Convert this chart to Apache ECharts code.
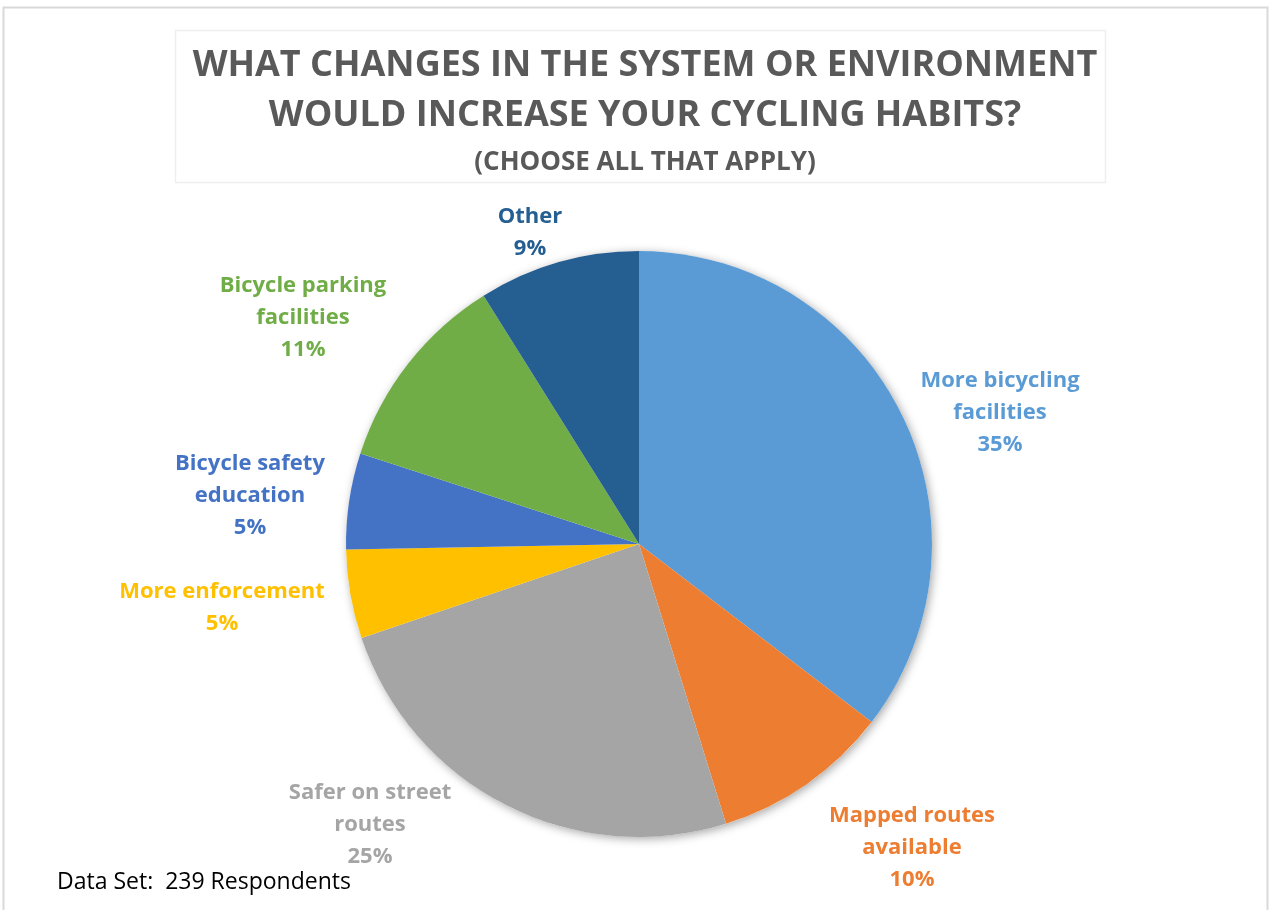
<!DOCTYPE html>
<html>
<head>
<meta charset="utf-8">
<script src="https://cdn.jsdelivr.net/npm/echarts@6/dist/echarts.min.js"></script>
<style>
html,body{margin:0;padding:0;background:#fff;}
#chart{width:1271px;height:910px;}
</style>
</head>
<body>
<div id="chart"></div>
<script>
// ---- data ----
const categories = [
  'More bicycling\nfacilities',
  'Mapped routes\navailable',
  'Safer on street\nroutes',
  'More enforcement',
  'Bicycle safety\neducation',
  'Bicycle parking\nfacilities',
  'Other'
];
const shares = [35.4, 9.8, 24.6, 4.9, 5.3, 11.1, 8.9];
const titleLines = ['WHAT CHANGES IN THE SYSTEM OR ENVIRONMENT', 'WOULD INCREASE YOUR CYCLING HABITS?'];
const subtitle = '(CHOOSE ALL THAT APPLY)';
const footnote = 'Data Set:  239 Respondents';

// ---- styles / layout ----
const colors = ['#5B9BD5', '#ED7D31', '#A5A5A5', '#FFC000', '#4472C4', '#70AD47', '#255E91'];
const pieCenter = [639, 544];
const pieRadius = 293;
// label block offsets relative to pie centre
const labelOffsets = [[361, -131], [273, 304], [-269, 281], [-417, 64], [-389, -48], [-336, -226], [-109, -311]];

const chart = echarts.init(document.getElementById('chart'));
const font = '"Open Sans", "DejaVu Sans", sans-serif';

const option = {
  backgroundColor: '#ffffff',
  animation: false,
  title: {
    text: titleLines.join('\n'),
    subtext: subtitle,
    left: 640,
    textAlign: 'center',
    top: 36,
    itemGap: 6,
    textStyle: { fontFamily: font, fontWeight: 'bold', fontSize: 36, lineHeight: 50, color: '#595959' },
    subtextStyle: { fontFamily: font, fontWeight: 'bold', fontSize: 26, lineHeight: 32, color: '#595959' }
  },
  graphic: [
    { type: 'rect', shape: { x: 3.5, y: 7.5, width: 1264, height: 920 }, style: { fill: 'none', stroke: '#D9D9D9', lineWidth: 2 }, z: -10 },
    { type: 'rect', shape: { x: 175.5, y: 30.5, width: 930, height: 152 }, style: { fill: 'none', stroke: '#EFEFEF', lineWidth: 1.5 }, z: -10 },
    { type: 'text', left: 57, top: 871, style: { text: footnote, fontFamily: font, fontSize: 23, fill: '#000000' } }
  ],
  series: [
    {
      type: 'pie',
      silent: true,
      center: pieCenter,
      radius: pieRadius,
      label: { show: false },
      labelLine: { show: false },
      itemStyle: { color: '#ffffff', shadowBlur: 10, shadowColor: 'rgba(0,0,0,0.35)', shadowOffsetX: 2, shadowOffsetY: 2 },
      data: [{ value: 1, name: '' }],
      z: 1
    },
    {
      type: 'pie',
      center: pieCenter,
      radius: pieRadius,
      startAngle: 90,
      clockwise: true,
      percentPrecision: 0,
      avoidLabelOverlap: false,
      itemStyle: { borderWidth: 0 },
      labelLine: { show: false },
      label: {
        show: true,
        position: 'outside',
        formatter: '{b}\n{d}%',
        fontFamily: font,
        fontWeight: 'bold',
        fontSize: 22,
        lineHeight: 32,
        align: 'center'
      },
      labelLayout: function (p) {
        const off = labelOffsets[p.dataIndex];
        return { x: pieCenter[0] + off[0], y: pieCenter[1] + off[1], align: 'center', verticalAlign: 'middle' };
      },
      data: categories.map((c, i) => ({
        name: c,
        value: shares[i],
        itemStyle: { color: colors[i] },
        label: { color: colors[i] }
      })),
      z: 2
    }
  ]
};
chart.setOption(option);
</script>
</body>
</html>
